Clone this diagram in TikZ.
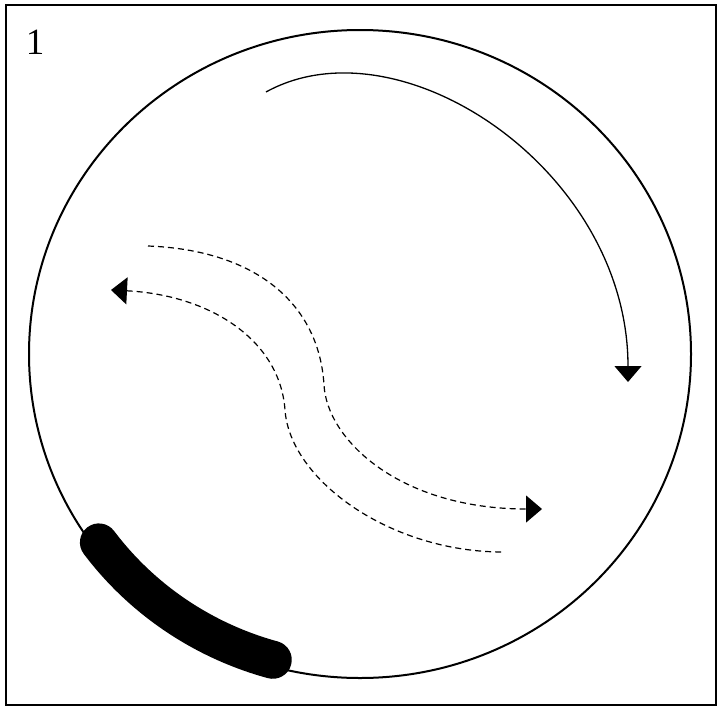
\documentclass[tikz,border=0pt]{standalone}
\usepackage{fontspec}
\setmainfont{Liberation Serif}
\usetikzlibrary{arrows.meta}
\begin{document}
\begin{tikzpicture}[x=1pt,y=-1pt,
  frame/.style={line width=2pt},
  rim/.style={line width=2pt},
  flow/.style={line width=1.3pt, -{Triangle[width=27pt,length=16pt]}},
  dflowend/.style={line width=1.2pt, dash pattern=on 6pt off 4pt, -{Triangle[width=27pt,length=16pt]}},
  dflowstart/.style={line width=1.2pt, dash pattern=on 6pt off 4pt, {Triangle[width=27pt,length=16pt]}-},
  brake/.style={line width=38pt, line cap=round}]
\useasboundingbox (0,0) rectangle (717,707);
\draw[frame] (6,5) rectangle (715.5,704.5);
\node[font=\fontsize{37}{37}\selectfont, inner sep=0pt] (lbl) at (35,42) {1};
\draw[rim] (360,354) ellipse [x radius=331, y radius=324];
% solid arc
\coordinate (s0) at (266,92);
\coordinate (s1) at (628,382);
\draw[flow] (s0) .. controls (400,18) and (628,170) .. (s1);
% upper dashed
\coordinate (u0) at (148,246);
\coordinate (um) at (324,385);
\coordinate (u1) at (542,509);
\draw[dflowend] (u0) .. controls (255,250) and (319,303) .. (um)
  .. controls (327,440) and (400,509) .. (u1);
% lower dashed
\coordinate (l0) at (111,290);
\coordinate (lm) at (285,410);
\coordinate (l1) at (503,552);
\draw[dflowstart] (l0) .. controls (210,295) and (280,340) .. (lm)
  .. controls (290,480) and (390,552) .. (l1);
% thick arc
\coordinate (b0) at ({360+324.4*cos(143.6)},{354+317.5*sin(143.6)});
\draw[brake] (b0) arc[start angle=143.6, end angle=105.6, x radius=324.4, y radius=317.5];
\end{tikzpicture}
\end{document}
